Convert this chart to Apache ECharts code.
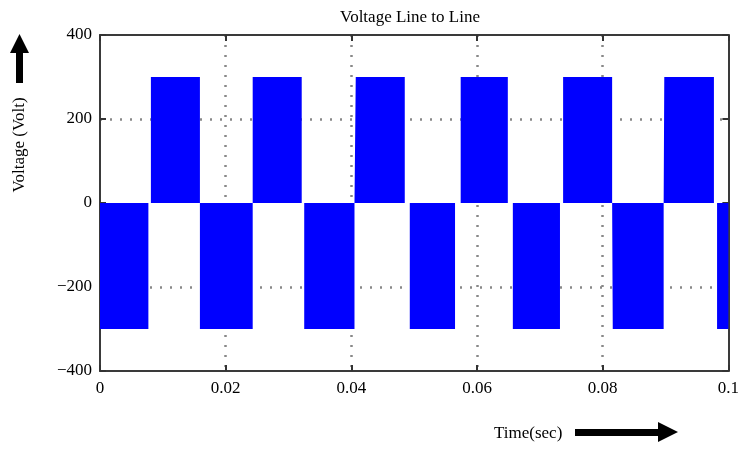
<!DOCTYPE html>
<html>
<head>
<meta charset="UTF-8">
<title>Voltage Line to Line</title>
<script src="https://cdn.jsdelivr.net/npm/echarts@6/dist/echarts.min.js"></script>
<style>
  html, body { margin: 0; padding: 0; background: #fff; }
  #chart { width: 742px; height: 450px; }
</style>
</head>
<body>
<div id="chart"></div>
<script>
// pulse edges (sec)
var level = 300;
var posOn  = [0.0081, 0.0243, 0.0407, 0.0574, 0.0737, 0.0898];
var posOff = [0.0159, 0.0321, 0.0485, 0.0649, 0.0815, 0.0977];
var negOn  = [0, 0.0159, 0.0325, 0.0493, 0.0657, 0.0816, 0.0982];
var negOff = [0.0077, 0.0243, 0.0405, 0.0565, 0.0732, 0.0897, 0.1];

// build the waveform as a list of rectangular pulses
var pulses = [];
posOn.forEach(function (t, i) { pulses.push([t, posOff[i], level]); });
negOn.forEach(function (t, i) { pulses.push([t, negOff[i], -level]); });
pulses.sort(function (a, b) { return a[0] - b[0]; });
var wave = [];
pulses.forEach(function (p) {
    wave.push([p[0], 0], [p[0], p[2]], [p[1], p[2]], [p[1], 0]);
});

var font = 'Liberation Serif';
var frame = { show: true, onZero: false, lineStyle: { color: '#3a3a3a', width: 2 } };
var tick = { show: true, inside: true, length: 6, lineStyle: { color: '#333', width: 2 } };
var none = 'rgba(0,0,0,0)';
var g = '#888';

var myChart = echarts.init(document.getElementById('chart'));
var option = {
    animation: false,
    title: {
        text: 'Voltage Line to Line',
        left: 405, top: 4, textAlign: 'center',
        textStyle: { fontFamily: font, fontSize: 17, fontWeight: 'normal', color: '#000' }
    },
    grid: { left: 100, right: 12, top: 35, bottom: 79 },
    xAxis: [{
        type: 'value', min: 0, max: 0.1, interval: 0.02,
        axisLine: frame, axisTick: tick,
        splitLine: { show: true, lineStyle: { color: [none, g, g, g, g, none], width: 2.5, type: [2, 8] } },
        axisLabel: { margin: 9, color: '#000', fontFamily: font, fontSize: 17 }
    }, {
        type: 'value', position: 'top', min: 0, max: 0.1, interval: 0.02,
        axisLine: frame, axisTick: tick, splitLine: { show: false }, axisLabel: { show: false }
    }],
    yAxis: [{
        type: 'value', min: -400, max: 400, interval: 200,
        axisLine: frame, axisTick: tick,
        splitLine: { show: true, lineStyle: { color: [none, g, none, g, none], width: 2.5, type: [2, 8] } },
        axisLabel: {
            margin: 8, color: '#000', fontFamily: font, fontSize: 17,
            formatter: function (v) { return String(v).replace('-', '\u2212'); }
        }
    }, {
        type: 'value', position: 'right', min: -400, max: 400, interval: 200,
        axisLine: frame, axisTick: tick, splitLine: { show: false }, axisLabel: { show: false }
    }],
    series: [{
        type: 'line',
        data: wave,
        showSymbol: false,
        symbol: 'none',
        lineStyle: { width: 0 },
        areaStyle: { color: '#0000ff', opacity: 1, origin: 0 },
        z: 1
    }],
    graphic: [
        {   // y arrow
            type: 'polygon',
            shape: { points: [[19.5, 34], [29, 53], [23, 53], [23, 83], [16, 83], [16, 53], [10, 53]] },
            style: { fill: '#000' }
        },
        {
            type: 'text', x: 20, y: 145, rotation: Math.PI / 2,
            style: { text: 'Voltage (Volt)', fontFamily: font, fontSize: 17, fill: '#000',
                     textAlign: 'center', textVerticalAlign: 'middle' }
        },
        {
            type: 'text', x: 494, y: 434,
            style: { text: 'Time(sec)', fontFamily: font, fontSize: 17, fill: '#000',
                     textAlign: 'left', textVerticalAlign: 'middle' }
        },
        {   // x arrow
            type: 'polygon',
            shape: { points: [[575, 429], [658, 429], [658, 422], [678, 432], [658, 442], [658, 436], [575, 436]] },
            style: { fill: '#000' }
        }
    ]
};
myChart.setOption(option);
</script>
</body>
</html>
